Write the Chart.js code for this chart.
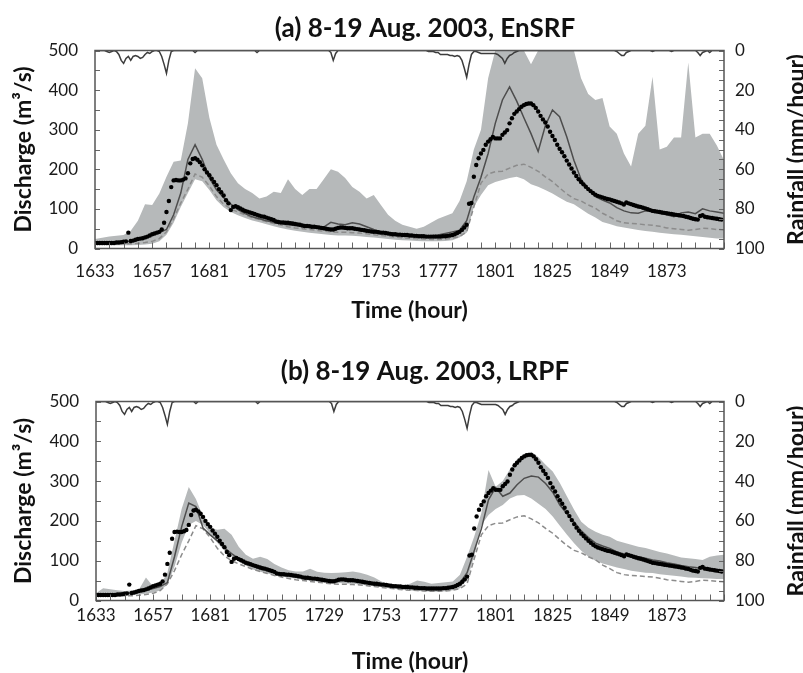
<!DOCTYPE html>
<html><head><meta charset="utf-8">
<script src="https://cdn.jsdelivr.net/npm/chart.js@4.4.1/dist/chart.umd.min.js"></script>
<style>
html,body{margin:0;padding:0;background:#fff;overflow:hidden;width:803px;height:673px;}
.p{position:absolute;left:0;width:803px;height:340px;}
#wa{top:0px;} #wb{top:351px;}
</style></head><body>
<div class="p" id="wa"><canvas id="ca" width="803" height="340"></canvas></div>
<div class="p" id="wb"><canvas id="cb" width="803" height="340"></canvas></div>
<script>
// ---------- DATA ----------
const startHour = 1633;
const xTickLabels = [1633,1657,1681,1705,1729,1753,1777,1801,1825,1849,1873];

// 3-hourly time stamps for the ensemble series
const hours3 = [1633,1636,1639,1642,1645,1648,1651,1654,1657,1660,
 1663,1666,1669,1672,1675,1678,1681,1684,1687,1690,
 1693,1696,1699,1702,1705,1708,1711,1714,1717,1720,
 1723,1726,1729,1732,1735,1738,1741,1744,1747,1750,
 1753,1756,1759,1762,1765,1768,1771,1774,1777,1780,
 1783,1786,1789,1792,1795,1798,1801,1804,1807,1810,
 1813,1816,1819,1822,1825,1828,1831,1834,1837,1840,
 1843,1846,1849,1852,1855,1858,1861,1864,1867,1870,
 1873,1876,1879,1882,1885,1888,1891,1894,1897];

// observed discharge (hourly, from 1633)
const observed = [
14,14,14,14,14,14,14,14,14,15,15,16,
17,18,40,19,20,22,24,25,26,28,30,33,
36,38,40,42,48,65,92,120,155,172,173,172,
172,174,177,190,215,226,228,224,218,210,200,192,
185,176,168,160,150,142,134,122,114,97,105,107,
104,101,98,95,93,91,89,87,85,83,81,80,
78,76,74,72,68,67,66,66,65,65,64,63,
62,61,60,58,57,57,56,55,55,54,53,52,
51,50,49,48,48,50,52,53,53,52,51,51,
51,50,49,48,47,46,45,44,43,42,42,41,
40,40,39,38,37,36,36,35,35,34,34,34,
33,33,32,32,31,31,31,30,30,30,30,30,
30,30,31,31,32,33,34,36,39,42,47,53,
60,113,115,181,211,228,240,249,262,270,276,282,
278,278,278,287,293,299,316,329,340,346,352,358,
362,365,366,366,362,355,346,335,326,318,308,295,
284,274,262,252,243,233,222,212,202,192,183,175,
168,162,156,150,145,140,136,133,131,129,127,125,
124,122,120,118,116,114,111,116,114,112,110,108,
106,105,103,101,99,97,95,94,93,92,91,90,
89,88,87,86,85,84,83,82,80,79,77,75,
74,73,82,84,80,79,78,77,76,75,74,73];

// rainfall (mm/hour, hourly, from 1633)
const rainfall = [
0,0,0,0,0,0.5,1,0.5,0,0.5,2,5,
6.5,4,3,5,3,2.5,3,4,3.5,2,1,1.5,
0.5,0,0,0.5,3,7,11.5,5,0.5,0,0,0,
0,0,0,0,0,0,1,0,0,0,0,0,
0,0,0,0,0,0,0,0,0,0,0,0,
0,0,0,0,0,0,0,0,1,0,0,0,
0,0,0,0,0,0,0,0,0,0,0,0,
0,0,0,0,0,0,0,0,0,0,0,0,
0,0,0,1,5,1.5,0,0,0,0,0,0,
0,0,0,0,0,0,0,0,0,0,0,0,
0,0,0,0,0,0,0,0,0,0,0,0,
0,0,0,0,0,0,0,0,0.5,0.5,0.5,1,
1,2,2,2,2,2.5,2.5,3,2.5,3,5,9,
13.5,7,2,0.5,0.5,1,1.5,1.5,1.5,1.5,1.5,1.5,
1.5,2,3,4,6.5,4,2.5,2,1,0.5,0,0,
0,0,0,0,0,0,0,0,0,0,0,0,
0,0,0,0,0,0,0,0,0,0,0,0,
0,0,0,0,0,0,0,0,0,0,0,0,
0,0,0,0.5,1.5,2.5,2.5,1,0.5,0,0,0,
0,0,0,0,0,0,0.5,0,0,0,0,0,
0,0,0.5,0,0,0,0,0,0,0,0,0,
0,1,2.5,1,0.5,0,1,0,0,0,0,0];

// open-loop simulation (3-hourly)
const openLoop = [
12,12,12,12,12,12,13,15,18,25,
42,75,115,150,188,180,158,131,112,100,
92,85,78,73,68,63,59,55,52,50,
48,46,44,42,41,41,40,39,37,35,
33,31,29,27,26,25,24,23,23,24,
26,30,42,105,165,188,194,195,203,210,
213,205,195,181,169,153,138,126,120,110,
102,89,80,70,65,63,62,60,59,56,
52,50,48,46,48,51,50,48,47];

// (a) EnSRF
const ensrfUpper = [
24,27,30,32,34,45,70,112,110,139,
181,219,222,316,455,430,330,262,225,190,
165,150,140,126,131,143,140,175,150,135,
150,150,175,200,194,178,155,143,126,135,
110,85,70,60,55,50,55,65,75,82,
89,120,170,250,300,430,500,500,500,500,
500,465,500,500,500,500,500,500,430,390,
375,380,308,290,240,207,290,310,434,250,
257,280,280,470,280,290,290,260,223];
const ensrfLower = [
8,8,8,8,8,8,9,10,12,18,
35,65,105,140,175,170,148,122,104,92,
84,77,71,66,61,56,52,48,45,42,
40,38,36,34,33,33,32,31,29,28,
26,24,22,21,20,19,18,18,18,19,
21,28,40,105,135,160,168,173,178,181,
175,162,156,148,139,128,118,112,100,88,
78,67,62,56,53,50,47,44,42,40,
38,36,35,33,31,29,27,25,25];
const ensrfMean = [
15,15,15,16,17,18,22,28,35,40,
48,85,140,225,262,225,178,148,128,112,
98,88,80,75,70,66,62,60,58,56,
55,54,54,66,62,60,65,62,55,48,
42,38,36,34,33,32,32,32,34,38,
42,46,70,130,180,240,316,375,408,372,
330,290,245,310,350,333,282,223,175,150,
131,122,115,103,95,90,89,95,95,89,
85,80,90,92,88,100,95,92,89];

// (b) LRPF
const lrpfUpper = [
18,31,28,26,24,25,27,58,35,39,
70,150,230,285,255,211,182,178,180,165,
135,115,105,110,104,92,83,76,73,73,
80,72,70,69,70,71,73,70,65,58,
48,41,39,39,42,50,47,42,44,46,
48,65,110,161,220,328,286,300,330,355,
368,374,360,341,324,295,261,228,198,183,
173,165,160,150,145,140,135,132,127,122,
118,113,108,106,104,102,110,113,115];
const lrpfLower = [
10,10,10,11,12,13,15,17,20,25,
40,85,145,190,200,190,168,145,125,110,
98,88,78,72,68,64,60,57,55,52,
50,48,46,45,44,43,42,40,38,36,
34,31,29,27,25,24,23,22,22,23,
26,31,52,111,190,215,230,240,256,264,
265,256,243,230,211,188,165,144,125,110,
100,93,88,83,79,75,72,70,69,66,
64,62,60,58,57,56,55,54,54];
const lrpfMean = [
14,14,14,15,17,20,23,26,30,35,
45,110,185,245,236,182,165,150,132,118,
105,95,85,80,76,70,66,62,60,58,
56,54,52,52,52,52,50,48,45,42,
39,36,34,32,31,30,29,29,29,31,
35,44,70,125,180,253,284,262,270,291,
307,313,310,294,272,240,218,197,175,158,
144,137,131,122,117,113,110,106,102,99,
95,92,88,85,83,80,78,77,76];

// ---------- CHART ----------
const hourly = observed.map((_, i) => startHour + i);
const pts = (xs, ys) => ys.map((y, i) => ({x: xs[i], y: y}));
const FONT = 'Lato';

const framePlugin = {
  id: 'frame',
  afterDraw(chart, args, o) {
    const {ctx, chartArea: a, scales} = chart;
    ctx.save();
    ctx.strokeStyle = '#666';
    ctx.lineWidth = 1;
    ctx.beginPath();
    scales.x.ticks.forEach(t => {
      const px = Math.round(scales.x.getPixelForValue(t.value)) + 0.5;
      ctx.moveTo(px, a.bottom); ctx.lineTo(px, a.bottom - 6);
    });
    scales.y.ticks.forEach(t => {
      const py = Math.round(scales.y.getPixelForValue(t.value)) + 0.5;
      ctx.moveTo(a.left, py); ctx.lineTo(a.left + 5, py);
    });
    scales.y1.ticks.forEach(t => {
      const py = Math.round(scales.y1.getPixelForValue(t.value)) + 0.5;
      ctx.moveTo(a.right, py); ctx.lineTo(a.right - 5, py);
    });
    ctx.stroke();
    ctx.strokeStyle = '#555';
    ctx.lineWidth = 1.5;
    ctx.strokeRect(a.left, a.top, a.right - a.left, a.bottom - a.top);
    // panel title
    ctx.fillStyle = '#111';
    ctx.textAlign = 'center';
    ctx.textBaseline = 'middle';
    ctx.font = 'bold 26px ' + FONT;
    ctx.fillText(o.title, o.titleX, o.titleY);
    // right axis title (reads bottom to top)
    ctx.translate(o.rightTitleX, (a.top + a.bottom) / 2);
    ctx.rotate(-Math.PI / 2);
    ctx.font = 'bold 23px ' + FONT;
    ctx.fillText('Rainfall (mm/hour)', 0, 0);
    ctx.restore();
  }
};

function build(id, title, upper, lower, mean, g) {
  return new Chart(document.getElementById(id), {
    type: 'line',
    data: {datasets: [
      {label: 'Rainfall', data: pts(hourly, rainfall), yAxisID: 'y1', borderColor: '#3c3c3c', borderWidth: 1.5, pointRadius: 0, fill: false, order: 0},
      {label: 'Observed', data: pts(hourly, observed), yAxisID: 'y', showLine: false, pointRadius: 2.2, pointBackgroundColor: '#000', pointBorderWidth: 0, borderColor: '#000', order: 1},
      {label: 'Mean', data: pts(hours3, mean), yAxisID: 'y', borderColor: '#4d4d4d', borderWidth: 1.5, pointRadius: 0, fill: false, order: 2},
      {label: 'Open loop', data: pts(hours3, openLoop), yAxisID: 'y', borderColor: '#8c8c8c', borderWidth: 1.5, borderDash: [5, 3], pointRadius: 0, fill: false, order: 3},
      {label: 'Ensemble max', data: pts(hours3, upper), yAxisID: 'y', borderWidth: 0, borderColor: 'rgba(0,0,0,0)', backgroundColor: '#b6b9ba', pointRadius: 0, fill: '+1', order: 4},
      {label: 'Ensemble min', data: pts(hours3, lower), yAxisID: 'y', borderWidth: 0, borderColor: 'rgba(0,0,0,0)', backgroundColor: '#b6b9ba', pointRadius: 0, fill: false, order: 5}
    ]},
    options: {
      responsive: false, animation: false, devicePixelRatio: 1,
      layout: {padding: {top: g.top, left: 0, right: 0, bottom: 0}},
      plugins: {
        legend: {display: false}, tooltip: {enabled: false}, title: {display: false},
        frame: {title: title, titleX: 425, titleY: g.titleY, rightTitleX: 797}
      },
      scales: {
        x: {
          type: 'linear', min: 1633, max: 1897,
          grid: {display: false, drawTicks: false}, border: {display: false},
          ticks: {count: 45, autoSkip: false, maxRotation: 0, padding: g.xpad, color: '#1a1a1a',
            font: {family: FONT, size: 17},
            callback: v => { const r = Math.round(v); return xTickLabels.includes(r) ? String(r) : ''; }},
          title: {display: true, text: 'Time (hour)', color: '#111', font: {family: FONT, size: 23, weight: 'bold'}, padding: {top: 0, bottom: g.xtitlePad}},
          afterFit: s => { s.height = g.xh; }
        },
        y: {
          position: 'left', min: 0, max: 500,
          grid: {display: false, drawTicks: false}, border: {display: false},
          ticks: {stepSize: 50, autoSkip: false, padding: 17, color: '#1a1a1a', font: {family: FONT, size: 17},
            callback: v => (v % 100 === 0 ? String(v) : '')},
          title: {display: true, text: 'Discharge (m³/s)', color: '#111', font: {family: FONT, size: 23, weight: 'bold'}, padding: {top: 10, bottom: 0}},
          afterFit: s => { s.width = g.left; }
        },
        y1: {
          position: 'right', reverse: true, min: 0, max: 100,
          grid: {display: false, drawTicks: false}, border: {display: false},
          ticks: {stepSize: 5, autoSkip: false, padding: 11, color: '#1a1a1a', font: {family: FONT, size: 17},
            callback: v => (v % 20 === 0 ? String(v) : '')},
          afterFit: s => { s.width = 79; }
        }
      }
    },
    plugins: [framePlugin]
  });
}

build('ca', '(a) 8-19 Aug. 2003, EnSRF', ensrfUpper, ensrfLower, ensrfMean,
  {top: 50.5, xh: 91.5, left: 95, xpad: 13, xtitlePad: 16, titleY: 29});
build('cb', '(b) 8-19 Aug. 2003, LRPF', lrpfUpper, lrpfLower, lrpfMean,
  {top: 50.5, xh: 90.5, left: 96, xpad: 5, xtitlePad: 16, titleY: 21});
</script>
</body></html>
